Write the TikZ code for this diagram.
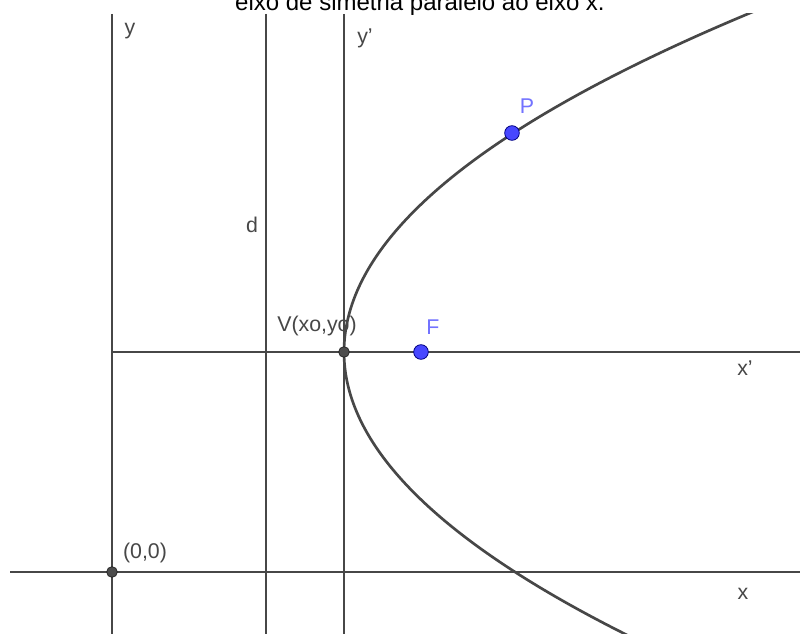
\documentclass[tikz,border=0pt]{standalone}
\usepackage{fontspec}
\setmainfont{Liberation Sans}
\begin{document}
\begin{tikzpicture}[x=0.75pt,y=-0.75pt,
  axisline/.style={draw=black!72, line width=2pt},
  curveline/.style={draw=black!72, line width=2pt},
  lbl/.style={text=black!72, font=\fontsize{16}{18}\selectfont, inner sep=0pt},
  bluelbl/.style={text=blue!55!white, font=\fontsize{16}{18}\selectfont, inner sep=0pt},
  darkdot/.style={circle, fill=black!70, draw=black!85, line width=0.6pt, minimum size=8pt, inner sep=0pt},
  bluedot/.style={circle, fill=blue!72!white, draw=black!50!blue, line width=0.6pt, minimum size=11pt, inner sep=0pt}]
\useasboundingbox (0,0) rectangle (800,634);
\clip (0,0) rectangle (800,634);
\fill[white] (0,0) rectangle (800,634);
% title (cut off at the top, as in the reference)
\node[anchor=base, text=black, font=\fontsize{18}{20}\selectfont, inner sep=0pt] (title) at (420,11) {eixo de simetria paralelo ao eixo x.};
% coordinates
\coordinate (ytop) at (112,14); \coordinate (ybot) at (112,634);
\coordinate (xl) at (10,572); \coordinate (xr) at (800,572);
\coordinate (dtop) at (266,14); \coordinate (dbot) at (266,634);
\coordinate (yptop) at (344,14); \coordinate (ypbot) at (344,634);
\coordinate (xpl) at (112,352); \coordinate (xpr) at (800,352);
% lines
\draw[axisline] (ytop) -- (ybot);
\draw[axisline] (xl) -- (xr);
\draw[axisline] (dtop) -- (dbot);
\draw[axisline] (yptop) -- (ypbot);
\draw[axisline] (xpl) -- (xpr);
% parabola
\begin{scope}
\clip (0,14) rectangle (800,634);
\draw[curveline] plot[domain=-345:300, samples=160, smooth] ({344+(\x/16.823)^2},{352+\x});
\end{scope}
% points
\node[darkdot] (O) at (112,572) {};
\node[darkdot] (V) at (344,352) {};
\node[bluedot] (F) at (421,352) {};
\node[bluedot] (P) at (512,133) {};
% labels
\node[lbl] (ly) at (130,31) {y};
\node[lbl] (lyp) at (365,38) {y'};
\node[lbl] (ld) at (252,225) {d};
\node[bluelbl] (lP) at (527,106) {P};
\node[bluelbl] (lF) at (433,327) {F};
\node[lbl] (lV) at (317,326) {V(xo,yo)};
\node[lbl] (lxp) at (745,368) {x'};
\node[lbl] (lO) at (145,553) {(0,0)};
\node[lbl] (lx) at (743,594) {x};
\end{tikzpicture}
\end{document}
